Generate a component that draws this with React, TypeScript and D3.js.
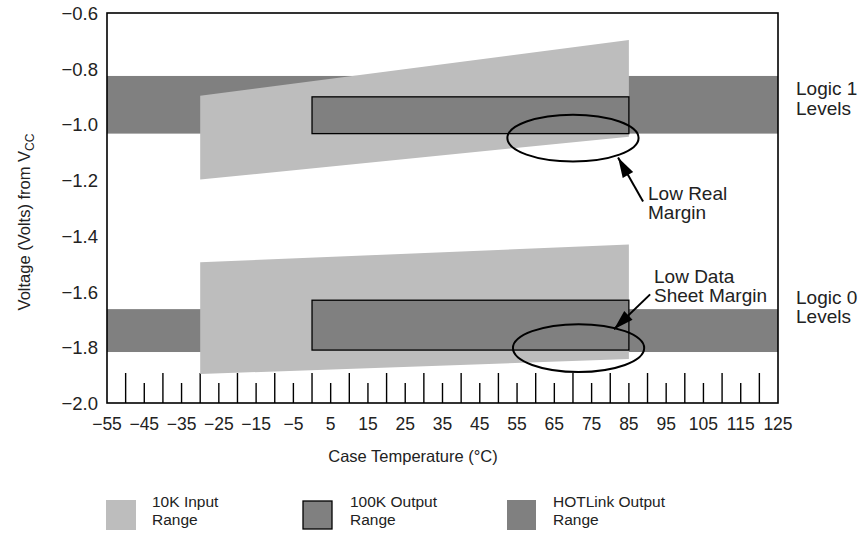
import React from 'react';
import * as d3 from 'd3';

// axis ticks
const tempLabels = [-55, -45, -35, -25, -15, -5, 5, 15, 25, 35, 45, 55, 65, 75, 85, 95, 105, 115, 125];
const voltLabels = [-0.6, -0.8, -1.0, -1.2, -1.4, -1.6, -1.8, -2.0];

// 10K input range: two trapezoids from -30 to 85 C
const inputTemps = [-30, 85];
const inputHighTop = [-0.897, -0.697];
const inputHighBottom = [-1.198, -1.044];
const inputLowTop = [-1.495, -1.431];
const inputLowBottom = [-1.896, -1.842];

// 100K output range boxes from 0 to 85 C
const output100KTemps = [0, 85];
const output100KHigh = [-0.901, -1.033];
const output100KLow = [-1.631, -1.81];

// HOTLink output bands across the full temperature range
const hotlinkHigh = [-0.826, -1.033];
const hotlinkLow = [-1.663, -1.817];

// callouts: [centre temp, centre volt, half width C, half height V]
const ellipses = [
  [70, -1.049, 17.6, 0.084],
  [71.5, -1.803, 17.6, 0.086],
];
// arrows: [tail temp, tail volt, tip temp, tip volt]
const arrows = [
  [88.8, -1.277, 82.1, -1.119],
  [90.7, -1.61, 81.0, -1.735],
];

const LIGHT = '#bdbdbd';
const DARK = '#808080';
const FONT = 'Arial, "Liberation Sans", Helvetica, sans-serif';

const fmt = (v: number, digits: number) => {
  const s = Math.abs(v).toFixed(digits);
  return v < 0 ? '\u2212' + s : s;
};

const App = () => {
  const x = d3.scaleLinear().domain([-55, 125]).range([107, 778]);
  const y = d3.scaleLinear().domain([-0.6, -2.0]).range([13, 403]);

  const trapezoid = (top: number[], bottom: number[]) => {
    const a = d3.area<number>()
      .x((i) => x(inputTemps[i]))
      .y0((i) => y(bottom[i]))
      .y1((i) => y(top[i]));
    return a([0, 1]) || '';
  };

  const minorTicks = d3.range(-50, 125, 5);

  // filled arrow head pointing at the tip
  const arrowHead = (tx: number, ty: number, fx: number, fy: number) => {
    const ang = Math.atan2(ty - fy, tx - fx);
    const len = 20, half = 6;
    const bx = tx - len * Math.cos(ang), by = ty - len * Math.sin(ang);
    const px = -Math.sin(ang) * half, py = Math.cos(ang) * half;
    return `M${tx},${ty}L${bx + px},${by + py}L${bx - px},${by - py}Z`;
  };

  return (
    <svg width={863} height={533} style={{ position: 'absolute', left: 0, top: 0, background: '#fff' }} fontFamily={FONT}>
      {/* HOTLink bands */}
      <rect x={x(-55)} width={x(125) - x(-55)} y={y(hotlinkHigh[0])} height={y(hotlinkHigh[1]) - y(hotlinkHigh[0])} fill={DARK} />
      <rect x={x(-55)} width={x(125) - x(-55)} y={y(hotlinkLow[0])} height={y(hotlinkLow[1]) - y(hotlinkLow[0])} fill={DARK} />

      {/* ticks along the bottom */}
      {minorTicks.map((t) => (
        <line key={t} x1={x(t)} x2={x(t)} y1={y(-2.0)} y2={y(-2.0) - (t % 10 === 0 ? 30 : 20)} stroke="#000" strokeWidth={1.4} />
      ))}

      {/* 10K input range */}
      <path d={trapezoid(inputHighTop, inputHighBottom)} fill={LIGHT} />
      <path d={trapezoid(inputLowTop, inputLowBottom)} fill={LIGHT} />

      {/* 100K output range */}
      {[output100KHigh, output100KLow].map((r, i) => (
        <rect key={i} x={x(output100KTemps[0])} width={x(output100KTemps[1]) - x(output100KTemps[0])}
          y={y(r[0])} height={y(r[1]) - y(r[0])} fill={DARK} stroke="#000" strokeWidth={1.3} />
      ))}

      {/* frame */}
      <rect x={x(-55)} y={y(-0.6)} width={x(125) - x(-55)} height={y(-2.0) - y(-0.6)} fill="none" stroke="#000" strokeWidth={1.6} />

      {/* callout ellipses and arrows */}
      {ellipses.map((e, i) => (
        <ellipse key={i} cx={x(e[0])} cy={y(e[1])} rx={x(e[0] + e[2]) - x(e[0])} ry={y(e[1] - e[3]) - y(e[1])}
          fill="none" stroke="#000" strokeWidth={2} />
      ))}
      {arrows.map((a, i) => (
        <g key={i}>
          <line x1={x(a[0])} y1={y(a[1])} x2={x(a[2])} y2={y(a[3])} stroke="#000" strokeWidth={2} />
          <path d={arrowHead(x(a[2]), y(a[3]), x(a[0]), y(a[1]))} fill="#000" />
        </g>
      ))}

      {/* y tick labels */}
      {voltLabels.map((v) => (
        <text key={v} x={98} y={y(v)} dy="0.38em" textAnchor="end" fontSize={18.5} fill="#222">{fmt(v, 1)}</text>
      ))}
      {/* x tick labels */}
      {tempLabels.map((t) => (
        <text key={t} x={x(t)} y={430} textAnchor="middle" fontSize={17.5} fill="#222">{fmt(t, 0)}</text>
      ))}

      <text x={413} y={462} textAnchor="middle" fontSize={16.5} fill="#222">Case Temperature (°C)</text>
      <text transform="translate(30,222) rotate(-90)" textAnchor="middle" fontSize={16.5} fill="#222">
        Voltage (Volts) from V<tspan fontSize={12} dy={4}>CC</tspan>
      </text>

      {/* annotations */}
      <g fontSize={19} fill="#222">
        <text x={796} y={95}>Logic 1</text>
        <text x={796} y={115}>Levels</text>
        <text x={796} y={304}>Logic 0</text>
        <text x={796} y={323}>Levels</text>
        <text x={648} y={200}>Low Real</text>
        <text x={648} y={219}>Margin</text>
        <text x={654} y={283}>Low Data</text>
        <text x={654} y={302}>Sheet Margin</text>
      </g>

      {/* legend */}
      <g fontSize={15.5} fill="#222">
        <rect x={106} y={500} width={30} height={30} fill={LIGHT} />
        <text x={152} y={507}>10K Input</text>
        <text x={152} y={525}>Range</text>
        <rect x={303} y={501} width={29} height={28} fill={DARK} stroke="#000" strokeWidth={1.3} />
        <text x={350} y={507}>100K Output</text>
        <text x={350} y={525}>Range</text>
        <rect x={507} y={500} width={29} height={30} fill={DARK} />
        <text x={553} y={507}>HOTLink Output</text>
        <text x={553} y={525}>Range</text>
      </g>
    </svg>
  );
};

export default App;
